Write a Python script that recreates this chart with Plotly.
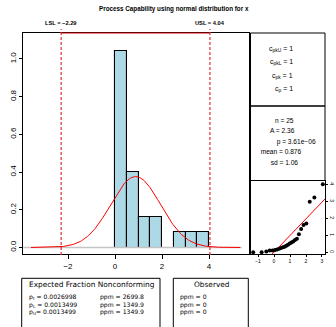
import numpy as np
import plotly.graph_objects as go

W, H = 336, 327


def px(x):
    return x / W


def py(y):
    return 1 - y / H


# ---------------- data ----------------
bin_left = [0.0, 0.5, 1.0, 1.5, 2.0, 2.5, 3.0, 3.5]
bin_width = 0.5
bar_density = [1.04, 0.40, 0.16, 0.16, 0.0, 0.08, 0.08, 0.08]
lsl, usl = -2.29, 4.04
fit_mean, fit_sd = 0.876, 1.06
n_obs = 25
ad_stat = 2.36
p_value_text = "3.61e\u221206"

qq_theoretical = [-1.301, -0.772, -0.482, -0.269, -0.094, 0.057, 0.194, 0.320,
                  0.439, 0.552, 0.662, 0.770, 0.876, 0.982, 1.090, 1.200, 1.313,
                  1.432, 1.558, 1.695, 1.846, 2.021, 2.234, 2.524, 3.053]
qq_sample = [0.00, 0.00, 0.04, 0.10, 0.11, 0.13, 0.17, 0.21, 0.25, 0.29, 0.33,
             0.38, 0.44, 0.52, 0.58, 0.64, 0.72, 0.80, 1.06, 1.37, 1.60, 1.70,
             2.97, 3.22, 4.00]
qq_line_x = [-0.11, 3.19]
qq_line_y = [-0.10, 3.14]

cap_labels = ["c<sub>pkU</sub> = 1", "c<sub>pkL</sub> = 1", "c<sub>pk</sub> = 1", "c<sub>p</sub> = 1"]
stat_labels = ["n = %d" % n_obs, "A = %.2f" % ad_stat, "p = " + p_value_text,
               "mean = %.3f" % fit_mean, "sd = %.2f" % fit_sd]
exp_labels = ["p<sub>t</sub> = 0.0026998", "p<sub>L</sub> = 0.0013499", "p<sub>U</sub>= 0.0013499"]
exp_ppm = ["ppm = 2699.8", "ppm = 1349.9", "ppm = 1349.9"]
obs_ppm = ["ppm = 0", "ppm = 0", "ppm = 0"]

main_xticks = [-2, 0, 2, 4]
main_yticks = [0.0, 0.2, 0.4, 0.6, 0.8, 1.0]
qq_xticks = [-1, 0, 1, 2, 3]
qq_yticks = [0, 1, 2, 3, 4]

FONT = "Liberation Sans, Arial, sans-serif"
TFONT = "DejaVu Sans, sans-serif"

fig = go.Figure()

# histogram bars
fig.add_trace(go.Bar(
    x=[b + bin_width / 2 for b in bin_left], y=bar_density, width=bin_width,
    marker=dict(color="#ADD8E6", line=dict(color="black", width=1.1)),
    xaxis="x", yaxis="y", hoverinfo="skip"))

# zero line
fig.add_trace(go.Scatter(x=[-3.9, 5.39], y=[0, 0], mode="lines",
                         line=dict(color="#c4c4c4", width=1.5), xaxis="x", yaxis="y"))

# fitted normal density
xs = np.linspace(fit_mean - 4.2 * fit_sd, fit_mean + 4.2 * fit_sd, 300)
ys = np.exp(-0.5 * ((xs - fit_mean) / fit_sd) ** 2) / (fit_sd * np.sqrt(2 * np.pi))
fig.add_trace(go.Scatter(x=xs, y=ys, mode="lines", line=dict(color="red", width=1),
                         xaxis="x", yaxis="y"))

# QQ plot
fig.add_trace(go.Scatter(x=qq_line_x, y=qq_line_y, mode="lines",
                         line=dict(color="red", width=1), xaxis="x2", yaxis="y2"))
fig.add_trace(go.Scatter(x=qq_theoretical, y=qq_sample, mode="markers",
                         marker=dict(color="black", size=4), xaxis="x2", yaxis="y2",
                         cliponaxis=False))

# panel 2 text (clipped)
stat_x = [275, 270, 276.7, 260.7, 270.7]
stat_y = [121, 131.7, 142.3, 152.7, 163.3]
fig.add_trace(go.Scatter(x=stat_x, y=stat_y, text=stat_labels, mode="text",
                         textposition="middle right",
                         textfont=dict(family=FONT, size=6.6, color="black"),
                         xaxis="x3", yaxis="y3", cliponaxis=True))

main_dom_x = [px(23), px(248.5)]
main_dom_y = [py(254), py(33)]
qq_dom_x = [px(250.5), px(325)]
qq_dom_y = [py(254), py(180.5)]

fig.update_layout(
    width=W, height=H, margin=dict(l=0, r=0, t=0, b=0),
    paper_bgcolor="white", plot_bgcolor="white", showlegend=False,
    bargap=0,
    xaxis=dict(domain=main_dom_x, range=[-3.915, 5.681], showgrid=False, zeroline=False,
               showline=True, mirror=True, linecolor="black", linewidth=1,
               ticks="outside", ticklen=4, tickcolor="black", tickvals=main_xticks,
               tickfont=dict(family=FONT, size=8, color="black"), anchor="y"),
    yaxis=dict(domain=main_dom_y, range=[-0.0345, 1.1379], showgrid=False, zeroline=False,
               showline=True, mirror=True, linecolor="black", linewidth=1,
               ticks="outside", ticklen=3, tickcolor="black", tickvals=main_yticks,
               ticktext=["%.1f" % v for v in main_yticks], tickangle=-90,
               tickfont=dict(family=FONT, size=8, color="black"), anchor="x"),
    xaxis2=dict(domain=qq_dom_x, range=[-1.469, 3.188], showgrid=False, zeroline=False,
                showline=True, mirror=True, linecolor="black", linewidth=1,
                ticks="outside", ticklen=2, tickcolor="black", tickvals=qq_xticks,
                tickfont=dict(family=FONT, size=5, color="black"), anchor="y2"),
    yaxis2=dict(domain=qq_dom_y, range=[-0.1, 4.224], showgrid=False, zeroline=False,
                showline=True, mirror=True, linecolor="black", linewidth=1, side="right",
                ticks="outside", ticklen=2, tickcolor="black", tickvals=qq_yticks,
                tickangle=90, tickfont=dict(family=FONT, size=5, color="black"), anchor="x2"),
    xaxis3=dict(domain=[px(250.5), px(325)], range=[250.5, 325], visible=False, anchor="y3"),
    yaxis3=dict(domain=[py(180.5), py(106)], range=[180.5, 106], visible=False, anchor="x3"),
)

shapes = []
# spec limit lines
for v in (lsl, usl):
    shapes.append(dict(type="line", xref="x", yref="paper", x0=v, x1=v, y0=py(255), y1=py(29),
                       line=dict(color="rgba(225,60,60,0.85)", width=1.5, dash="3px,2px"),
                       layer="above"))
shapes.append(dict(type="line", xref="x", yref="paper", x0=lsl, x1=usl, y0=py(33), y1=py(33),
                   line=dict(color="#d40000", width=1), layer="above"))
# right panels
for (t, b) in ((33, 106), (106, 180.5)):
    shapes.append(dict(type="rect", xref="paper", yref="paper", x0=px(250.5), x1=px(325),
                       y0=py(b), y1=py(t), line=dict(color="black", width=1)))
# table boxes
shapes.append(dict(type="rect", xref="paper", yref="paper", x0=px(21.7), x1=px(160),
                   y0=py(340), y1=py(278.3), line=dict(color="black", width=1)))
shapes.append(dict(type="rect", xref="paper", yref="paper", x0=px(173.3), x1=px(248.3),
                   y0=py(340), y1=py(278.3), line=dict(color="black", width=1)))
fig.update_layout(shapes=shapes)

ann = []


def add_text(text, x, y, size, xanchor="center", family=FONT, xref="paper"):
    ann.append(dict(text=text, x=(x if xref != "paper" else px(x)), y=py(y), xref=xref,
                    yref="paper", xanchor=xanchor, yanchor="middle", showarrow=False,
                    font=dict(family=family, size=size, color="black")))


add_text("<b>Process Capability using normal distribution for x</b>", 174, 9, 6.3)
add_text("<b>LSL = \u22122.29</b>", lsl, 23, 5.7, xref="x")
add_text("<b>USL = 4.04</b>", usl, 23, 5.7, xref="x")

for lab, y in zip(cap_labels, [49.3, 62.3, 75.7, 89]):
    add_text(lab, 295, y, 7, xanchor="right")

add_text("Expected Fraction Nonconforming", 91.7, 284.3, 7.4, family=TFONT)
add_text("Observed", 211.7, 284.3, 7.4, family=TFONT)
for i, y in enumerate([297.0, 304.6, 312.2]):
    add_text(exp_labels[i], 26.7, y, 6.1, xanchor="left", family=TFONT)
    add_text(exp_ppm[i], 97.7, y, 6.1, xanchor="left", family=TFONT)
    add_text(obs_ppm[i], 178.3, y, 6.1, xanchor="left", family=TFONT)

fig.update_layout(annotations=ann)

fig.write_html("out.html", config={"displayModeBar": False},
               post_script="document.body.style.margin='0px';document.body.style.overflow='hidden';")
